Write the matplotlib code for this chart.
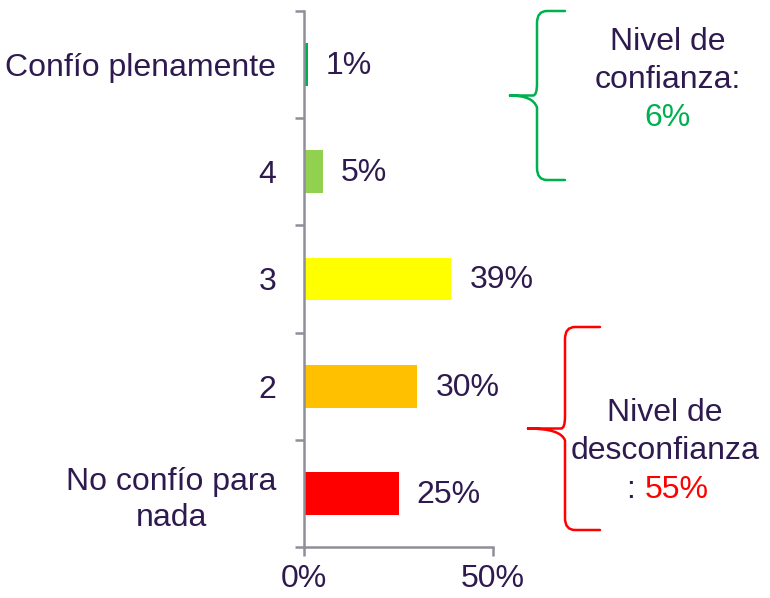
import matplotlib.pyplot as plt
from matplotlib.path import Path
from matplotlib.patches import PathPatch

plt.rcParams['font.family'] = ['Liberation Sans', 'DejaVu Sans']

categories = ['No confío para\nnada', '2', '3', '4', 'Confío plenamente']
values = [0.25, 0.30, 0.39, 0.05, 0.01]
value_labels = ['25%', '30%', '39%', '5%', '1%']
bar_colors = ['#FF0000', '#FFC000', '#FFFF00', '#92D050', '#00B050']
x_ticks = [0, 0.5]
x_tick_labels = ['0%', '50%']

txt = '#2E1A4F'
axis_c = '#8F8F99'
fs = 23

fig = plt.figure(figsize=(7.7, 5.98), dpi=100)
ax = fig.add_axes([304 / 770, 1 - 547 / 598, 189 / 770, 536 / 598])

ypos = list(range(len(categories)))
ax.barh(ypos, values, height=0.4, color=bar_colors)
for y, v, lab in zip(ypos, values, value_labels):
    ax.annotate(lab, (v, y), xytext=(13, -1), textcoords='offset points',
                ha='left', va='center', fontsize=fs, color=txt)

ax.set_xlim(0, 0.5)
ax.set_ylim(-0.5, 4.5)
ax.set_xticks(x_ticks)
ax.set_xticklabels(x_tick_labels, fontsize=fs, color=txt)
ax.set_yticks([i - 0.5 for i in range(len(categories) + 1)])
ax.set_yticklabels([])
ax.set_yticks(ypos, minor=True)
ax.set_yticklabels(categories, minor=True, fontsize=fs, color=txt)
for t in ax.get_yticklabels(minor=True):
    t.set_multialignment('center')
    t.set_linespacing(1.25)
ax.tick_params(axis='y', which='minor', length=0, pad=20)
ax.tick_params(axis='both', which='major', length=6.5, width=1.8, color=axis_c, direction='out')
ax.tick_params(axis='x', pad=6)
for s in ['top', 'right']:
    ax.spines[s].set_visible(False)
for s in ['left', 'bottom']:
    ax.spines[s].set_color(axis_c)
    ax.spines[s].set_linewidth(1.8)

# overlay for braces and notes, in pixel units
ov = fig.add_axes([0, 0, 1, 1])
ov.set_xlim(0, 770)
ov.set_ylim(598, 0)
ov.axis('off')


def brace(x_tip, x_mid, x_point, y_top, y_bot, color):
    ym = (y_top + y_bot) / 2
    r = 12
    verts = [(x_tip, y_top), (x_mid + 10, y_top), (x_mid, y_top), (x_mid, y_top + r),
             (x_mid, ym - r), (x_mid, ym), (x_mid - 4, ym), (x_point, ym),
             (x_point, ym), (x_mid - 4, ym), (x_mid, ym + r),
             (x_mid, y_bot - r), (x_mid, y_bot), (x_mid + 10, y_bot), (x_tip, y_bot)]
    codes = [Path.MOVETO, Path.LINETO, Path.CURVE3, Path.CURVE3,
             Path.LINETO, Path.CURVE3, Path.CURVE3, Path.LINETO,
             Path.MOVETO, Path.CURVE3, Path.CURVE3,
             Path.LINETO, Path.CURVE3, Path.CURVE3, Path.LINETO]
    ov.add_patch(PathPatch(Path(verts, codes), fill=False, edgecolor=color,
                           linewidth=1.8, capstyle='round'))


brace(565, 537, 510, 11, 180, '#00B050')
brace(600, 565, 528, 327, 530, '#FF0000')

ov.text(668, 42, 'Nivel de', ha='center', va='center', fontsize=fs, color=txt)
ov.text(668, 80, 'confianza:', ha='center', va='center', fontsize=fs, color=txt)
ov.text(668, 118, '6%', ha='center', va='center', fontsize=fs, color='#00B050')

ov.text(665, 413, 'Nivel de', ha='center', va='center', fontsize=fs, color=txt)
ov.text(665, 451, 'desconfianza', ha='center', va='center', fontsize=fs, color=txt)
ov.text(645, 490, ': ', ha='right', va='center', fontsize=fs, color=txt)
ov.text(645, 490, '55%', ha='left', va='center', fontsize=fs, color='#FF0000')

fig.savefig('out.png', dpi=100)
